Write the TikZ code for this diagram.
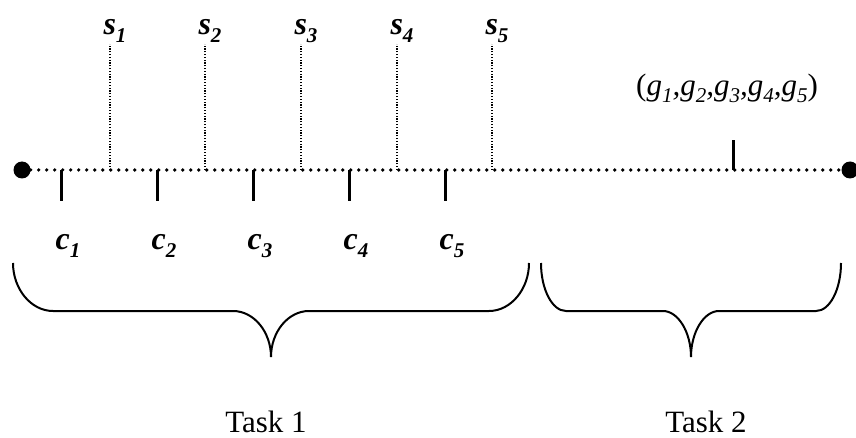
\documentclass[tikz,border=0pt]{standalone}
\usepackage{fontspec}
\setmainfont{Liberation Serif}
\usetikzlibrary{positioning}
\newcommand\sub[1]{\raisebox{-0.22em}{\fontsize{21}{21}\selectfont #1}}

\begin{document}
\begin{tikzpicture}
              [x=1pt,y=-1pt,
                every node/.style={inner sep=0pt,font=\fontsize{31}{37}\selectfont},
                sym/.style={font=\fontsize{32}{38}\selectfont\bfseries\itshape,anchor=base},
                enddot/.style={circle,fill=black,minimum size=17pt},
                axis/.style={line width=3.6pt,dash pattern=on 0pt off 8pt,line cap=round},
                guide/.style={line width=1.1pt,dash pattern=on 1.1pt off 1.7pt},
                tick/.style={line width=3pt},
                brace/.style={line width=2pt}]
              \useasboundingbox (0,0) rectangle (856,438);
              \node[enddot] (a0) at (22,170) {};
              \node[enddot] (a1) at (850,170) {};
              \draw[axis] (a0) -- (a1);
              % checkpoints below the line
              \foreach \i/\x in {1/61,2/157,3/253,4/349,5/445} {
                \coordinate (t\i) at (\x,170);
                \coordinate (b\i) at (\x,201);
                \draw[tick] (t\i) -- (b\i);
                \node[sym] (c\i) at (\x+7,250) {c\sub{\i}};
              }
              % samples above the line
              \foreach \i/\x in {1/110,2/205,3/301,4/397,5/492} {
                \coordinate (u\i) at (\x,170);
                \coordinate (v\i) at (\x,44);
                \draw[guide] (u\i) -- (v\i);
                \node[sym] (s\i) at (\x+5,35) {s\sub{\i}};
              }
              \coordinate (gt) at (733,170);
              \coordinate (gb) at (733,140);
              \draw[tick] (gt) -- (gb);
              \node[anchor=base] (g) at (727,96) {(\textit{g\sub{1},g\sub{2},g\sub{3},g\sub{4},g\sub{5}})};
              % braces
              \coordinate (tip1) at (271,357);
              \coordinate (tip2) at (691,357);
              \draw[brace] (13,263) .. controls (13,289) and (31,311) .. (53,311) -- (233,311)
                .. controls (254,311) and (271,332) .. (tip1)
                .. controls (271,332) and (288,311) .. (309,311) -- (489,311)
                .. controls (511,311) and (529,289) .. (529,263);
              \draw[brace] (541,263) .. controls (541,289) and (552,311) .. (566,311) -- (663,311)
                .. controls (678,311) and (691,332) .. (tip2)
                .. controls (691,332) and (704,311) .. (719,311) -- (816,311)
                .. controls (830,311) and (841,289) .. (841,263);
              \node[anchor=base] (task1) at (266,432) {Task 1};
              \node[anchor=base] (task2) at (706,432) {Task 2};
            \end{tikzpicture}
\end{document}
